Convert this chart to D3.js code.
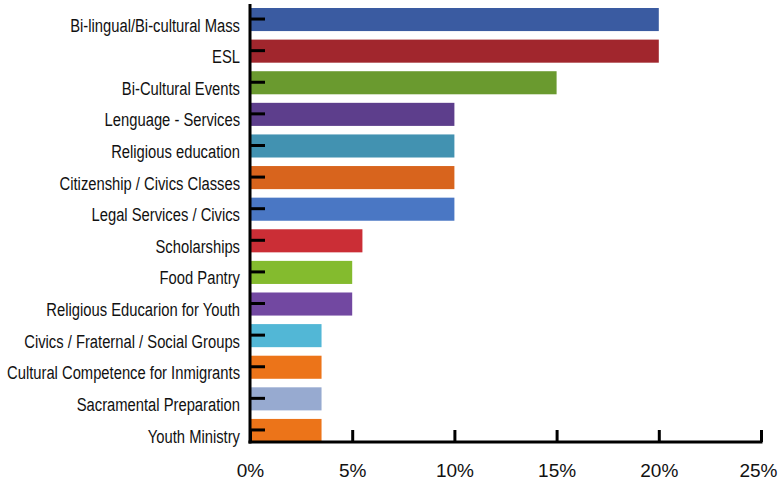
<!DOCTYPE html>
<html>
<head>
<meta charset="utf-8">
<script src="https://cdn.jsdelivr.net/npm/d3@7"></script>
<style>
  html, body { margin: 0; padding: 0; background: #fff; }
  svg { display: block; }
</style>
</head>
<body>
<div id="chart"></div>
<script>
// Share of parishes offering each ministry / service (percent)
const categories = [
  "Bi-lingual/Bi-cultural Mass",
  "ESL",
  "Bi-Cultural Events",
  "Lenguage - Services",
  "Religious education",
  "Citizenship / Civics Classes",
  "Legal Services / Civics",
  "Scholarships",
  "Food Pantry",
  "Religious Educarion for Youth",
  "Civics / Fraternal / Social Groups",
  "Cultural Competence for Inmigrants",
  "Sacramental Preparation",
  "Youth Ministry"
];
const values = [20, 20, 15, 10, 10, 10, 10, 5.5, 5, 5, 3.5, 3.5, 3.5, 3.5];
const barColors = [
  "#3A5BA1", "#A1262D", "#6A9A2F", "#5D3E8C", "#4292B1", "#D8641D", "#4A77C4",
  "#CB2E36", "#84BB2E", "#7248A1", "#52B7D6", "#EC7419", "#97AAD0", "#EC7419"
];
const xTicks = [0, 5, 10, 15, 20, 25];

const W = 778, H = 481;
const svg = d3.select("#chart").append("svg")
  .attr("width", W).attr("height", H);

const x = d3.scaleLinear().domain([0, 25]).range([250, 761]);
const y = d3.scaleBand().domain(categories).range([8, 442])
  .paddingInner(0.27).paddingOuter(0);

// Bars
svg.append("g").selectAll("rect")
  .data(categories)
  .join("rect")
  .attr("x", x(0))
  .attr("y", d => y(d))
  .attr("width", (d, i) => x(values[i]) - x(0))
  .attr("height", y.bandwidth())
  .attr("fill", (d, i) => barColors[i]);

// Category axis: short ticks pointing into the plot, labels to the left
const yAxis = svg.append("g")
  .attr("transform", `translate(${x(0)},0)`)
  .call(d3.axisLeft(y).tickSizeInner(-15).tickSizeOuter(0).tickPadding(10));
yAxis.select(".domain").remove();
yAxis.selectAll(".tick line")
  .attr("stroke", "#000").attr("stroke-width", 3)
  .attr("transform", "translate(0,-0.5)");
yAxis.selectAll(".tick text")
  .attr("dy", 0)
  .attr("y", y.bandwidth() / 2 + 0.5)
  .attr("fill", "#111")
  .style("font-family", "'Liberation Sans', Arial, sans-serif")
  .style("font-size", "18px")
  // condensed face: squeeze the glyphs horizontally
  .each(function () {
    const w = this.getComputedTextLength();
    d3.select(this)
      .attr("textLength", w * 0.82)
      .attr("lengthAdjust", "spacingAndGlyphs");
  });

// Value axis along the bottom with upward ticks
const xAxis = svg.append("g")
  .attr("transform", "translate(0,442)")
  .call(d3.axisBottom(x).tickValues(xTicks).tickFormat(d => d + "%")
    .tickSizeInner(-12).tickSizeOuter(0));
xAxis.select(".domain").remove();
xAxis.selectAll(".tick line")
  .attr("stroke", "#000").attr("stroke-width", 3);
xAxis.selectAll(".tick text")
  .attr("dy", 0)
  .attr("y", 35)
  .attr("dx", d => d === 25 ? -3 : 0)
  .attr("fill", "#111")
  .style("font-family", "'Liberation Sans', Arial, sans-serif")
  .style("font-size", "19px");

// Axis lines
svg.append("line")
  .attr("x1", x(0)).attr("x2", x(0)).attr("y1", 4).attr("y2", 443.5)
  .attr("stroke", "#000").attr("stroke-width", 3);
svg.append("line")
  .attr("x1", x(0) - 1.5).attr("x2", x(25) + 1.5).attr("y1", 442).attr("y2", 442)
  .attr("stroke", "#000").attr("stroke-width", 3);
</script>
</body>
</html>
